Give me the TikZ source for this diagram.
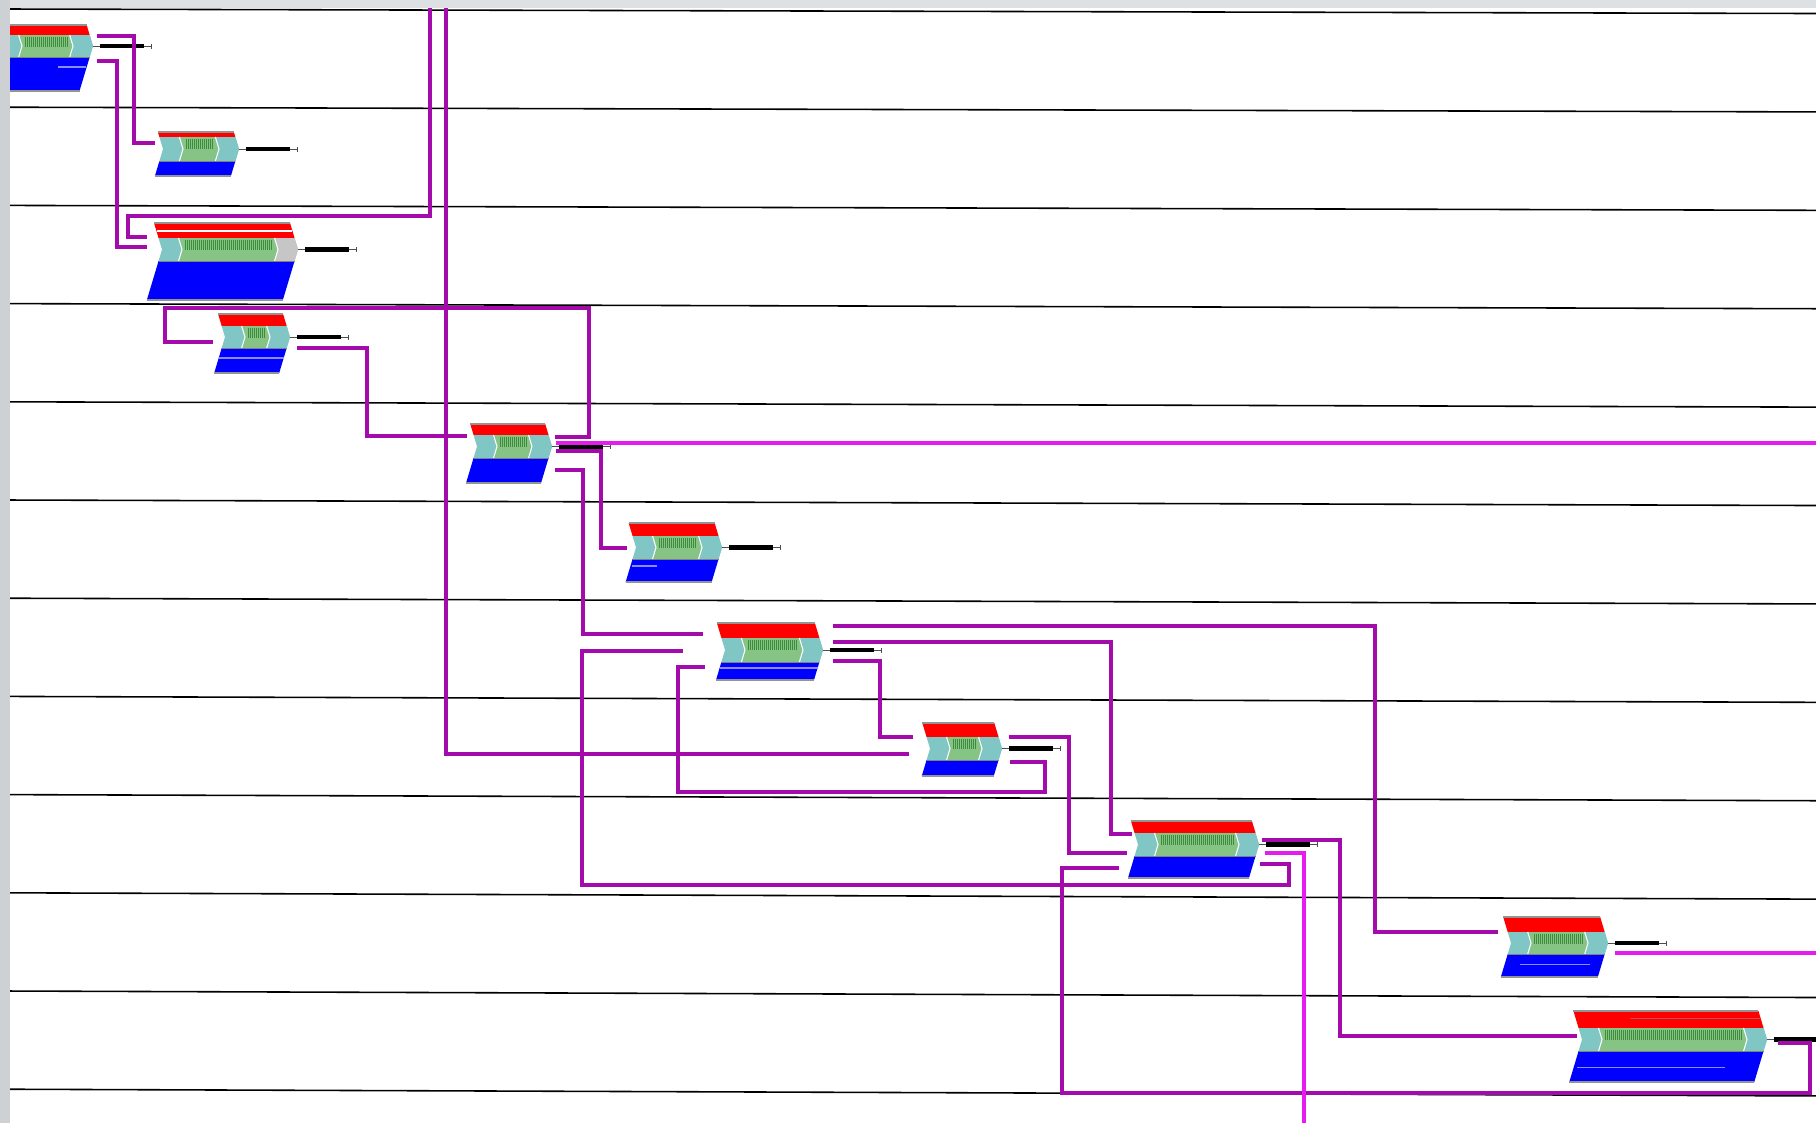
\documentclass[tikz,border=0pt]{standalone}
\usepackage{tikz}
\usetikzlibrary{calc}

\definecolor{genered}{RGB}{255,0,0}
\definecolor{geneblue}{RGB}{0,0,255}
\definecolor{genecap}{RGB}{128,198,196}
\definecolor{genegreen}{RGB}{134,196,134}
\definecolor{genetick}{RGB}{60,140,60}
\definecolor{genegray}{RGB}{198,198,198}
\definecolor{linkdark}{RGB}{163,12,170}
\definecolor{linkbright}{RGB}{228,28,238}
\definecolor{framegray}{RGB}{222,225,228}
\definecolor{stripgray}{RGB}{205,209,212}

\tikzset{/gene/axis/.style={
	shape=rectangle, inner sep=0pt, outer sep=0pt, minimum height=0pt
}}
\tikzset{/gene/frame/.style={draw=gray!85, line width=0.5pt}}
\tikzset{/gene/bar/.style={draw=black, line width=1.2pt}}
\tikzset{/gene/stem/.style={draw=black!70, line width=0.25pt}}
\tikzset{/gene/tick/.style={draw=genetick, line width=0.25pt}}
\tikzset{/link/dark/.style={draw=linkdark, line width=1.05pt}}
\tikzset{/link/bright/.style={draw=linkbright, line width=0.95pt}}
\tikzset{/lane/rule/.style={draw=black, line width=0.45pt}}

% [cap colour]{name}{left}{tip}{top}{red bottom}{middle bottom}{bottom}
\newcommand{\gene}[8][genecap]{%
	\pgfmathsetmacro\gnM{(#6+#7)/2}%
	\pgfmathsetmacro\gnT{0.3*(\gnM-#5)}%
	\pgfmathsetmacro\gnU{0.3*(\gnM-#6)}%
	\pgfmathsetmacro\gnV{0.3*(#7-\gnM)}%
	\pgfmathsetmacro\gnB{0.3*(#8-\gnM)}%
	\pgfmathsetmacro\gnW{#4-#3}%
	\node[/gene/axis, minimum width=\gnW*0.01cm] (#2) at ({(#3+#4)/2},\gnM) {};
	\fill[genered] (#3-\gnT,#5) -- (#4-\gnT,#5) -- (#4-\gnU,#6) -- (#3-\gnU,#6) -- cycle;
	\fill[genecap] (#3-\gnU,#6) -- (#4-\gnU,#6) -- (#4,\gnM) -- (#4-\gnV,#7) -- (#3-\gnV,#7) -- (#3,\gnM) -- cycle;
	\fill[#1] (#4-20-\gnU,#6) -- (#4-\gnU,#6) -- (#4,\gnM) -- (#4-\gnV,#7) -- (#4-20-\gnV,#7) -- (#4-20,\gnM) -- cycle;
	\fill[genegreen] (#3+20-\gnU,#6) -- (#4-20-\gnU,#6) -- (#4-20,\gnM) -- (#4-20-\gnV,#7) -- (#3+20-\gnV,#7) -- (#3+20,\gnM) -- cycle;
	\draw[white, line width=0.3pt] (#3+20-\gnU,#6) -- (#3+20,\gnM) -- (#3+20-\gnV,#7)
		(#4-20-\gnU,#6) -- (#4-20,\gnM) -- (#4-20-\gnV,#7);
	\pgfmathsetmacro\gnA{#3+23}%
	\pgfmathsetmacro\gnC{#3+25}%
	\pgfmathsetmacro\gnE{#4-26}%
	\foreach \gx in {\gnA,\gnC,...,\gnE} \draw[/gene/tick] (\gx,#6+2) -- (\gx,#6+12);
	\fill[geneblue] (#3-\gnV,#7) -- (#4-\gnV,#7) -- (#4-\gnB,#8) -- (#3-\gnB,#8) -- cycle;
	\draw[/gene/frame] (#3-\gnT,#5) -- (#4-\gnT,#5) (#3-\gnB,#8) -- (#4-\gnB,#8);
	\draw[gray, line width=0.2pt] (#3-\gnV,#7) -- (#4-\gnV,#7);
	\draw[/gene/stem] (#2.east) -- ++(58,0) ++(0,-2.5) -- ++(0,5);
	\draw[/gene/bar] (#2.east) ++(7,0) -- ++(44,0);
}

\begin{document}
\begin{tikzpicture}[x=0.01cm, y=-0.01cm]
	\useasboundingbox (0,0) rectangle (1816,1123);
	\fill[white] (0,0) rectangle (1816,1123);
	\foreach \k in {0,...,11}
		\draw[/lane/rule] (10,{9+98.2*\k}) -- (1816,{13.5+98.4*\k});

	\gene{n1}{2}{93}{25}{35}{57}{91}
	\gene{n2}{163}{239}{132}{137}{161}{176}
	\gene[genegray]{n3}{162}{298}{223}{238}{261}{300}
	\gene{n4}{225}{290}{314}{326}{348}{373}
	\gene{n5}{477}{552}{424}{435}{458}{483}
	\gene{n6}{636}{722}{523}{536}{559}{582}
	\gene{n7}{725}{823}{623}{638}{662}{680}
	\gene{n8}{930}{1002}{723}{737}{760}{776}
	\gene{n9}{1138}{1259}{821}{833}{856}{878}
	\gene{n10}{1511}{1608}{917}{932}{954}{977}
	\gene{n11}{1582}{1767}{1011}{1028}{1051}{1082}

	% split lines inside some bands
	\draw[white, line width=0.3pt] (157,231) -- (292,231);
	\draw[white!55!geneblue, line width=0.3pt] (219,358) -- (284,358) (720,668) -- (818,668)
		(1577,1067) -- (1725,1067) (1520,964) -- (1590,964) (58,67) -- (86,67) (632,566) -- (657,566);
	\draw[gray!70!genered, line width=0.3pt] (1630,1018) -- (1760,1018);

	\coordinate (top1) at (430,8);
	\coordinate (top2) at (446,8);
	\coordinate (rim1) at (1816,443);
	\coordinate (rim2) at (1816,953);
	\coordinate (bot1) at (1304,1123);

	\draw[/link/dark] ($(n1.east)+(4,-10)$) -| ($(n2.west)+(-29,-6)$) -- ($(n2.west)+(-8,-6)$);
	\draw[/link/dark] ($(n1.east)+(4,15)$) -| ($(n3.west)+(-45,-2.5)$) -- ($(n3.west)+(-15,-2.5)$);
	\draw[/link/dark] (top1) |- ($(n3.west)+(-34,-33.5)$) |- ($(n3.west)+(-15,-12.5)$);
	\draw[/link/dark] (top2) |- ($(n8.west)+(-21,5.5)$);
	\draw[/link/dark] ($(n5.east)+(3,-9.5)$) -| (589,308) -| ($(n4.west)+(-60,5)$) -- ($(n4.west)+(-12,5)$);
	\draw[/link/dark] ($(n4.east)+(7,11)$) -| ($(n5.west)+(-110,-10.5)$) -- ($(n5.west)+(-10,-10.5)$);
	\draw[/link/bright] ($(n5.east)+(4,-3.5)$) -- (rim1);
	\draw[/link/dark] ($(n5.east)+(4,4.5)$) -| ($(n6.west)+(-35,0.5)$) -- ($(n6.west)+(-9,0.5)$);
	\draw[/link/dark] ($(n5.east)+(3,23.5)$) -| ($(n7.west)+(-142,-16)$) -- ($(n7.west)+(-22,-16)$);
	\draw[/link/dark] ($(n9.east)+(1,19.5)$) -| (1289,885) -| ($(n7.west)+(-143,1)$) -- ($(n7.west)+(-42,1)$);
	\draw[/link/dark] ($(n8.east)+(8,13.5)$) -| (1045,792) -| ($(n7.west)+(-47,17)$) -- ($(n7.west)+(-20,17)$);
	\draw[/link/dark] ($(n7.east)+(10,-24)$) -| ($(n10.west)+(-136,-11)$) -- ($(n10.west)+(-13,-11)$);
	\draw[/link/dark] ($(n7.east)+(10,-8)$) -| ($(n9.west)+(-27,-10.5)$) -- ($(n9.west)+(-6,-10.5)$);
	\draw[/link/dark] ($(n7.east)+(10,11)$) -| ($(n8.west)+(-50,-11.5)$) -- ($(n8.west)+(-17,-11.5)$);
	\draw[/link/dark] ($(n8.east)+(7,-11.5)$) -| ($(n9.west)+(-69,8.5)$) -- ($(n9.west)+(-11,8.5)$);
	\draw[/link/dark] ($(n11.east)+(11,3.5)$) -| (1810,1093) -| ($(n9.west)+(-76,23.5)$) -- ($(n9.west)+(-19,23.5)$);
	\draw[/link/bright] ($(n9.east)+(6,8.5)$) -| (bot1);
	\draw[/link/dark] ($(n9.east)+(3,-4.5)$) -| ($(n11.west)+(-242,-3.5)$) -- ($(n11.west)+(-5,-3.5)$);
	\draw[/link/bright] ($(n10.east)+(7,10)$) -- (rim2);

	\fill[framegray] (0,0) rectangle (1816,8);
	\fill[stripgray] (0,0) rectangle (10,1123);
\end{tikzpicture}
\end{document}
